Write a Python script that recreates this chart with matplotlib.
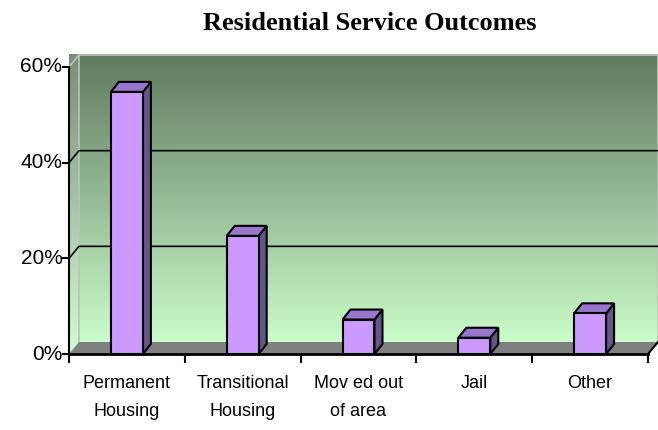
import numpy as np
import matplotlib.pyplot as plt
from matplotlib.patches import Polygon, Rectangle

categories = ["Permanent\nHousing", "Transitional\nHousing", "Mov ed out\nof area", "Jail", "Other"]
values = [54.8, 24.7, 7.2, 3.4, 8.5]
yticks = [0, 20, 40, 60]
ytick_labels = ["0%", "20%", "40%", "60%"]

front_col = "#cc99ff"
top_col = "#9977cc"
side_col = "#665588"


def main():
    fig = plt.figure(figsize=(6.58, 4.30), dpi=100)
    ax = fig.add_axes([69 / 658, 1 - 354 / 430, 579 / 658, 287 / 430])
    n = len(categories)
    x0, x1 = -0.5, n - 0.5
    ymax = 60
    ax.set_xlim(x0, x1)
    ax.set_ylim(0, ymax)
    ax.axis("off")

    # wall depth offsets in data units
    dx = 10 * (x1 - x0) / 579
    dy = 12 * ymax / 287

    # back wall gradient
    top = np.array([96, 122, 96]) / 255
    bot = np.array([202, 252, 202]) / 255
    t = np.linspace(0, 1, 256)[:, None]
    grad = (top * (1 - t) + bot * t)[:, None, :]
    grad = np.repeat(grad, 2, axis=1)
    ax.imshow(grad, extent=[x0 + dx, x1 + dx, dy, ymax + dy], aspect="auto",
              zorder=0, clip_on=False, interpolation="bilinear")

    # left wall, slightly lighter
    lgrad = grad * 0.85 + 0.15
    im = ax.imshow(lgrad, extent=[x0, x0 + dx, 0, ymax + dy], aspect="auto",
                   zorder=0, clip_on=False, interpolation="bilinear")
    lw_poly = Polygon([(x0, 0), (x0 + dx, dy), (x0 + dx, ymax + dy), (x0, ymax)],
                      closed=True, facecolor="none", edgecolor="none",
                      transform=ax.transData)
    ax.add_patch(lw_poly)
    im.set_clip_path(lw_poly)

    # wall borders
    ax.plot([x0 + dx, x1 + dx, x1 + dx], [ymax + dy, ymax + dy, dy], color="#c0c0c0",
            lw=1.2, clip_on=False, zorder=1)
    ax.plot([x0 + dx, x0 + dx], [dy, ymax + dy], color="#c0c0c0", lw=1.2,
            clip_on=False, zorder=1)
    ax.plot([x0, x0 + dx], [ymax, ymax + dy], color="#c0c0c0", lw=1.2,
            clip_on=False, zorder=1)

    # gridlines on back and left wall
    for v in yticks[1:-1]:
        ax.plot([x0, x0 + dx, x1 + dx], [v, v + dy, v + dy], color="black", lw=1.2,
                clip_on=False, zorder=1)

    # floor
    floor = Polygon([(x0, 0), (x1, 0), (x1 + dx, dy), (x0 + dx, dy)], closed=True,
                    facecolor="#808080", edgecolor="none", clip_on=False, zorder=1)
    ax.add_patch(floor)
    ax.plot([x1, x1 + dx], [0, dy], color="black", lw=1.5, clip_on=False, zorder=2)

    # axes lines and ticks
    ax.plot([x0, x1], [0, 0], color="black", lw=2, clip_on=False, zorder=4)
    ax.plot([x0, x0], [0, ymax], color="black", lw=1.5, clip_on=False, zorder=4)
    tick_dx = 6 * (x1 - x0) / 579
    tick_dy = 8 * ymax / 287
    for v, lab in zip(yticks, ytick_labels):
        ax.plot([x0 - tick_dx, x0], [v, v], color="black", lw=1.5, clip_on=False, zorder=4)
        ax.text(x0 - tick_dx - 0.005, v, lab, ha="right", va="center", fontsize=15,
                family="Liberation Sans")
    for b in np.arange(n + 1) - 0.5:
        ax.plot([b, b], [0, -tick_dy], color="black", lw=1.5, clip_on=False, zorder=4)
    for i, c in enumerate(categories):
        ax.text(i, -4.3, c, ha="center", va="top", fontsize=13, linespacing=1.85,
                family="Liberation Sans")

    # bars
    w = 0.276
    bdx = 8 * (x1 - x0) / 579
    bdy = 10 * ymax / 287
    for i, v in enumerate(values):
        l, r = i - w / 2, i + w / 2
        ax.add_patch(Polygon([(r, 0), (r + bdx, bdy), (r + bdx, v + bdy), (r, v)],
                             closed=True, facecolor=side_col, edgecolor="black",
                             lw=1.5, clip_on=False, zorder=5))
        ax.add_patch(Polygon([(l, v), (l + bdx, v + bdy), (r + bdx, v + bdy), (r, v)],
                             closed=True, facecolor=top_col, edgecolor="black",
                             lw=1.5, clip_on=False, zorder=5))
        ax.add_patch(Rectangle((l, 0), w, v, facecolor=front_col, edgecolor="black",
                               lw=1.5, clip_on=False, zorder=6))

    fig.text(370 / 658, 1 - 24 / 430, "Residential Service Outcomes", ha="center",
             va="center", fontsize=19, fontweight="bold", family="Liberation Serif")

    fig.savefig("out.png", dpi=100)


if __name__ == "__main__":
    main()
